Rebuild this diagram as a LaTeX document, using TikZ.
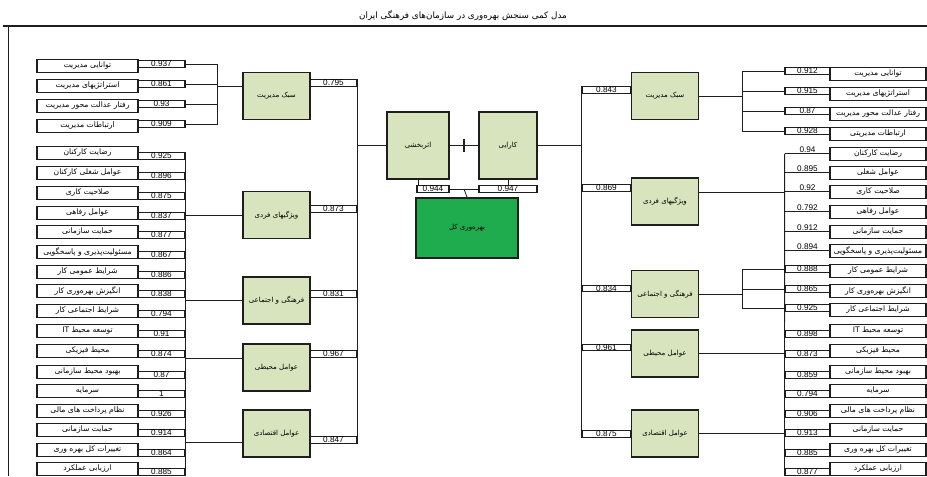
\documentclass[tikz,border=0pt]{standalone}
\usepackage{fontspec}
\setmainfont{Liberation Sans}
\newfontfamily\farsi[Script=Arabic]{DejaVu Sans}
\TeXXeTstate=1
\usetikzlibrary{calc}
\definecolor{boxolive}{RGB}{215,228,189}
\definecolor{boxgreen}{RGB}{30,172,78}
\definecolor{frameink}{RGB}{30,30,30}
\newcommand{\fa}[1]{{\farsi\beginR #1\endR}}
\tikzset{
  itembox/.style={
    draw=frameink,
    line width=1.3pt,
    fill=white,
    minimum height=0.4cm,
    inner sep=0pt,
    font=\fontsize{6.5}{7}\selectfont
  },
  valbox/.style={
    draw=frameink,
    line width=1pt,
    fill=white,
    minimum height=0.2cm,
    inner sep=0pt,
    font=\fontsize{7}{7}\selectfont
  },
  valtext/.style={
    minimum width=1.35cm,
    minimum height=0.2cm,
    inner sep=0pt,
    font=\fontsize{7}{7}\selectfont,
    append after command={(\tikzlastnode.south west) edge[link] (\tikzlastnode.south east)}
  },
  factorbox/.style={
    draw=frameink,
    line width=1.3pt,
    fill=boxolive,
    minimum width=2.02cm,
    minimum height=1.4cm,
    inner sep=1pt,
    font=\fontsize{6}{6.5}\selectfont
  },
  corebox/.style={factorbox, minimum width=1.8cm, minimum height=2cm},
  goalbox/.style={factorbox, fill=boxgreen, minimum width=3.06cm, minimum height=1.8cm},
  link/.style={draw=frameink, line width=0.7pt}
}
\begin{document}
\begin{tikzpicture}[x=0.03cm, y=-0.03cm]
  \useasboundingbox (0,0) rectangle (927,476);
  \draw[frameink, line width=2pt] (3,26) -- (927,26);
  \draw[frameink, line width=0.7pt] (8,26) -- (8,476);
  \node[font=\fontsize{7.5}{8}\selectfont] (title) at (463,16) {\fa{مدل کمی سنجش بهره‌وری در سازمان‌های فرهنگی ایران}};

  % left indicators
  \foreach \y/\o/\txt/\v [count=\i] in {
    59/5/توانایی مدیریت/0.937,
    79/5/استراتژیهای مدیریت/0.861,
    99/5/رفتار عدالت محور مدیریت/0.93,
    119/5/ارتباطات مدیریت/0.909,
    146/10/رضایت کارکنان/0.925,
    166/10/عوامل شغلی کارکنان/0.896,
    186/10/صلاحیت کاری/0.875,
    206/10/عوامل رفاهی/0.837,
    225/10/حمایت سازمانی/0.877,
    245/10/مسئولیت‌پذیری و پاسخگویی/0.867,
    265/10/شرایط عمومی کار/0.886,
    284/10/انگیزش بهره‌وری کار/0.838,
    304/10/شرایط اجتماعی کار/0.794,
    324/10/{توسعه محیط \beginL IT\endL}/0.91,
    344/10/محیط فیزیکی/0.874,
    365/10/بهبود محیط سازمانی/0.87,
    384/10/سرمایه/1,
    404/10/نظام پرداخت های مالی/0.926,
    423/10/حمایت سازمانی/0.914,
    443/10/تغییرات کل بهره وری/0.864,
    462/10/ارزیابی عملکرد/0.885}{
    \node[itembox, minimum width=3.03cm] (lo\i) at (87.5,\y+7) {\fa{\txt}};
    \node[valbox, minimum width=1.41cm] (lv\i) at (161.5,\y+\o) {\v};
  }

  % right indicators
  \foreach \y/\o/\s/\txt/\v [count=\i] in {
    67/4/valbox/توانایی مدیریت/0.912,
    87/4/valbox/استراتژیهای مدیریت/0.915,
    107/4/valbox/رفتار عدالت محور مدیریت/0.87,
    127/4/valbox/ارتباطات مدیریتی/0.928,
    147/3/valtext/رضایت کارکنان/0.94,
    166/3/valtext/عوامل شغلی/0.895,
    185/3/valtext/صلاحیت کاری/0.92,
    205/3/valtext/عوامل رفاهی/0.792,
    225/3/valtext/حمایت سازمانی/0.912,
    244/3/valtext/مسئولیت‌پذیری و پاسخگویی/0.894,
    264/5/valbox/شرایط عمومی کار/0.888,
    284/5/valbox/انگیزش بهره‌وری کار/0.865,
    303/5/valbox/شرایط اجتماعی کار/0.925,
    324/10/valbox/{توسعه محیط \beginL IT\endL}/0.898,
    344/10/valbox/محیط فیزیکی/0.873,
    365/10/valbox/بهبود محیط سازمانی/0.859,
    384/10/valbox/سرمایه/0.794,
    404/10/valbox/نظام پرداخت های مالی/0.906,
    423/10/valbox/حمایت سازمانی/0.913,
    443/10/valbox/تغییرات کل بهره وری/0.885,
    462/10/valbox/ارزیابی عملکرد/0.877}{
    \node[itembox, minimum width=2.88cm] (ro\i) at (878,\y+7) {\fa{\txt}};
    \node[\s, minimum width=1.35cm] (rv\i) at (807.5,\y+\o) {\v};
  }

  % factors
  \foreach \n/\y/\vy/\txt/\v in {
    1/96/83/سبک مدیریت/0.795,
    2/215/209/ویژگیهای فردی/0.873,
    3/300.5/294/فرهنگی و اجتماعی/0.831,
    4/367.5/354/عوامل محیطی/0.967,
    5/433.5/440/عوامل اقتصادی/0.847}{
    \node[factorbox] (gl\n) at (276.5,\y) {\fa{\txt}};
    \node[valbox, minimum width=1.41cm] (glv\n) at (333.5,\vy) {\v};
  }
  \foreach \n/\y/\vy/\txt/\v in {
    1/96/90/سبک مدیریت/0.843,
    2/201.5/188/ویژگیهای فردی/0.869,
    3/294/288.5/فرهنگی و اجتماعی/0.834,
    4/353.5/347.5/عوامل محیطی/0.961,
    5/433.5/434/عوامل اقتصادی/0.875}{
    \node[factorbox] (gr\n) at (665,\y) {\fa{\txt}};
    \node[valbox, minimum width=1.47cm] (grv\n) at (606.5,\vy) {\v};
  }

  % core
  \node[corebox, minimum width=1.86cm] (eff) at (418,145.5) {\fa{اثربخشی}};
  \node[corebox, minimum width=1.74cm] (effc) at (508,145.5) {\fa{کارایی}};
  \node[valbox, minimum width=0.96cm] (effv) at (433,189) {0.944};
  \node[valbox, minimum width=1.74cm] (effcv) at (508,189) {0.947};
  \node[goalbox] (prod) at (467,228) {\fa{بهره‌وری کل}};

  % left links
  \coordinate (lb1) at (217,64);
  \draw[link] (lv1.east) -- (lb1) -- (lb1 |- lv4.east) -- (lv4.east);
  \draw[link] (lv2.east) -- (lv2.east -| lb1);
  \draw[link] (lv3.east) -- (lv3.east -| lb1);
  \draw[link] ([yshift=0.3cm]gl1.west) -| (lb1);
  \draw[link] (lv5.east) -- (lv21.east);
  \draw[link] (gl2.west) -- (gl2.west -| lv5.east);
  \draw[link] (gl3.west) -- (gl3.west -| lv5.east);
  \draw[link] ([yshift=0.28cm]gl4.west) -| (lv5.east);
  \draw[link] ([yshift=-0.28cm]gl5.west) -| (lv5.east);
  \draw[link] (glv1.east) -- (glv5.east);
  \draw[link] (eff.west) -- (eff.west -| glv1.east);

  % right links
  \coordinate (rb1) at (742,71);
  \draw[link] (rv1.west) -- (rb1) -- (rb1 |- rv4.west) -- (rv4.west);
  \draw[link] (rv2.west) -- (rv2.west -| rb1);
  \draw[link] (rv3.west) -- (rv3.west -| rb1);
  \draw[link] (gr1.east) -| (rb1);
  \coordinate (rb3) at (742,269);
  \draw[link] (rv11.west) -- (rb3) -- (rb3 |- rv13.west) -- (rv13.west);
  \draw[link] (rv12.west) -- (rv12.west -| rb3);
  \draw[link] (gr3.east) -| (rb3);
  \draw[link] (rv5.south west) -- (rv21.west);
  \draw[link] ([yshift=0.28cm]gr2.east) -| (rv5.south west);
  \draw[link] (gr4.east) -| (rv5.south west);
  \draw[link] (gr5.east) -| (rv5.south west);
  \draw[link] (grv1.west) -- (grv5.west);
  \draw[link] (effc.east) -- (effc.east -| grv1.west);

  % core links
  \draw[link] (eff.east) -- (effc.west) coordinate[midway] (mid);
  \draw[frameink, line width=1.6pt] ([yshift=0.2cm]mid) -- ([yshift=-0.2cm]mid);
  \draw[link] (eff.south) -- (eff.south |- effv.north);
  \draw[link] (effc.south) -- (effcv.north);
  \draw[link] (effv.east) -- (effcv.west);
  \draw[link] (mid |- effv.east) -- (prod.north);
\end{tikzpicture}
\end{document}
